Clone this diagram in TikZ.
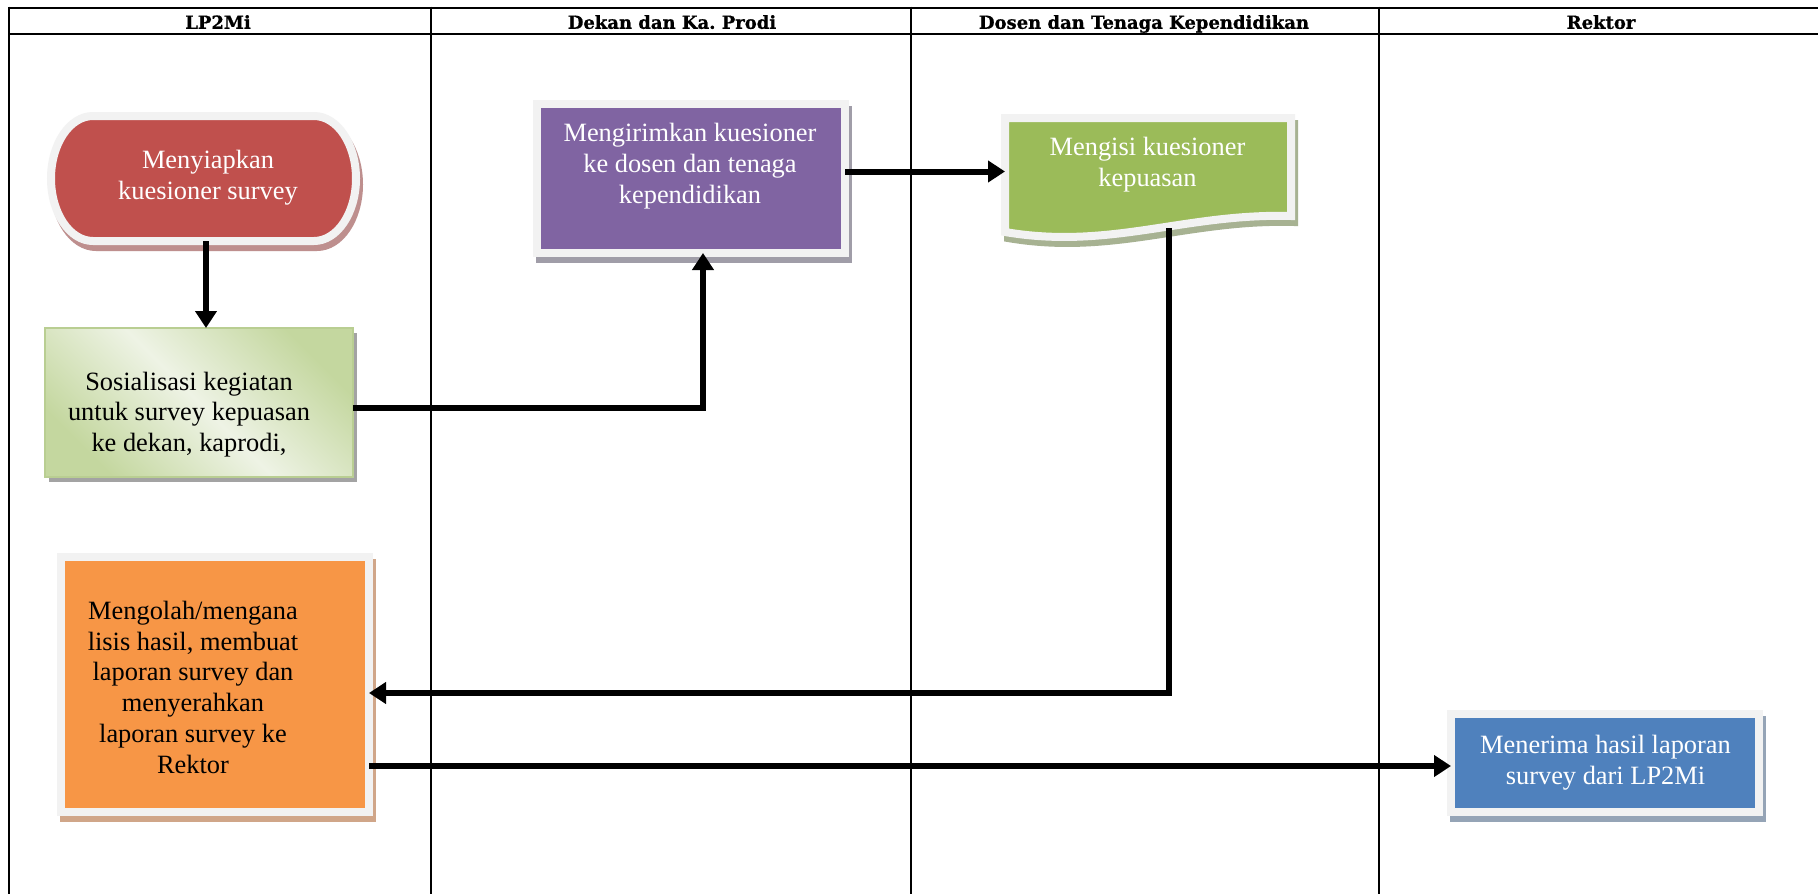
\documentclass[tikz,border=0pt]{standalone}
\usepackage{fontspec}
\setmainfont{Liberation Serif}
\newfontfamily\headfont{DejaVu Serif}[BoldFeatures={FakeBold=0.8}]
\usetikzlibrary{arrows.meta,shadows}

\definecolor{rimwhite}{HTML}{F2F2F2}
\definecolor{prepred}{HTML}{C0504D}
\definecolor{prepshade}{HTML}{BE8F8E}
\definecolor{sendpurple}{HTML}{8064A2}
\definecolor{sendshade}{HTML}{A09DA8}
\definecolor{docgreen}{HTML}{9BBB59}
\definecolor{docshade}{HTML}{A7B292}
\definecolor{workorange}{HTML}{F79646}
\definecolor{workshade}{HTML}{D0A689}
\definecolor{recvblue}{HTML}{4F81BD}
\definecolor{recvshade}{HTML}{95A4B6}
\definecolor{socdark}{HTML}{C4D79F}
\definecolor{soclight}{HTML}{EEF3E5}
\definecolor{socrim}{HTML}{B9CE92}
\definecolor{socshade}{HTML}{A3A3A3}

\begin{document}
\begin{tikzpicture}[x=1pt,y=-1pt,
  laneline/.style={line width=1.6pt},
  ruleline/.style={line width=2.3pt},
  headtext/.style={font=\headfont\bfseries\fontsize{18}{22}\selectfont, inner sep=0pt, anchor=base},
  steptext/.style={font=\fontsize{26.4}{30.8}\selectfont, align=center, inner sep=0pt},
  rimmed/.style 2 args={fill=#1, draw=rimwhite, line width=8pt,
     drop shadow={shadow xshift=3pt, shadow yshift=-6pt, opacity=1, fill=#2, draw=#2, line width=8pt}},
  plainbox/.style={rectangle, inner sep=0pt, outer sep=0pt},
  flow/.style={line width=6pt, -{Triangle[length=17pt,width=21pt]}},
]
\useasboundingbox (0,0) rectangle (1818,894);
\fill[white] (0,0) rectangle (1818,894);

% swimlane table
\draw[ruleline] (9,7.8) -- (1818,7.8);
\draw[ruleline] (9,34) -- (1818,34);
\foreach \lx in {9,431,911,1379}
  \draw[laneline] (\lx,6.7) -- (\lx,894);
\node[headtext] (hlp)    at (218,28.8)  {LP2Mi};
\node[headtext] (hdekan) at (672,28.8)  {Dekan dan Ka.\ Prodi};
\node[headtext] (hdosen) at (1144,28.8) {Dosen dan Tenaga Kependidikan};
\node[headtext] (hrek)   at (1601,28.8) {Rektor};

% terminator: preparing the questionnaire
\path[rimmed={prepred}{prepshade}]
  (93,116) -- (314,116) arc[start angle=-90, end angle=90, x radius=42, y radius=62.5]
  -- (93,241) arc[start angle=90, end angle=270, x radius=42, y radius=62.5] -- cycle;
\node[plainbox, minimum width=305pt, minimum height=125pt] (prep) at (203.5,178.5) {};
\node[steptext, text=white] (preptext) at (208,177.4) {Menyiapkan\\kuesioner survey};

% socialisation step
\node[plainbox, minimum width=308pt, minimum height=149pt, draw=socrim, line width=1.2pt,
  top color=socdark, bottom color=socdark, middle color=soclight, shading angle=-45,
  drop shadow={shadow xshift=4pt, shadow yshift=-5pt, opacity=1, fill=socshade}]
  (social) at (199,402.5) {};
\node[steptext] (socialtext) at (189,414.5) {Sosialisasi kegiatan\\untuk survey kepuasan\\ke dekan, kaprodi,};

% sending the questionnaire
\node[plainbox, rimmed={sendpurple}{sendshade}, minimum width=308pt, minimum height=149pt]
  (send) at (691,178.5) {};
\node[steptext, text=white] (sendtext) at (690,166.3) {Mengirimkan kuesioner\\ke dosen dan tenaga\\kependidikan};

% document shape: filling in the questionnaire
\path[rimmed={docgreen}{docshade}]
  (1005,118) -- (1291,118) -- (1291,216) .. controls (1185,213) and (1110,250) .. (1005,232) -- cycle;
\node[plainbox, minimum width=286pt, minimum height=110pt] (fill) at (1148,173) {};
\node[steptext, text=white] (filltext) at (1147.5,164.3) {Mengisi kuesioner\\kepuasan};

% analysing and reporting
\node[plainbox, rimmed={workorange}{workshade}, minimum width=308pt, minimum height=255pt]
  (analyse) at (215,684.5) {};
\node[steptext] (analysetext) at (193,687.2)
  {Mengolah/mengana\\lisis hasil, membuat\\laporan survey dan\\menyerahkan\\laporan survey ke\\Rektor};

% receiving the report
\node[plainbox, rimmed={recvblue}{recvshade}, minimum width=308pt, minimum height=98pt]
  (accept) at (1605,763) {};
\node[steptext, text=white] (accepttext) at (1605.5,762.5) {Menerima hasil laporan\\survey dari LP2Mi};

% connectors
\coordinate (prepout) at ([xshift=2.5pt]prep.south);
\draw[flow] (prepout) -- (prepout |- social.north);
\draw[flow] ([yshift=-5.5pt]social.east) -| ([xshift=12pt]send.south);
\coordinate (sendout) at ([yshift=7pt]send.east);
\draw[flow] (sendout) -- (sendout -| fill.west);
\draw[flow] ([xshift=21pt]fill.south) |- ([yshift=-8.5pt]analyse.east);
\coordinate (anout) at ([yshift=-81.5pt]analyse.east);
\draw[flow] (anout) -- (anout -| accept.west);
\end{tikzpicture}
\end{document}
